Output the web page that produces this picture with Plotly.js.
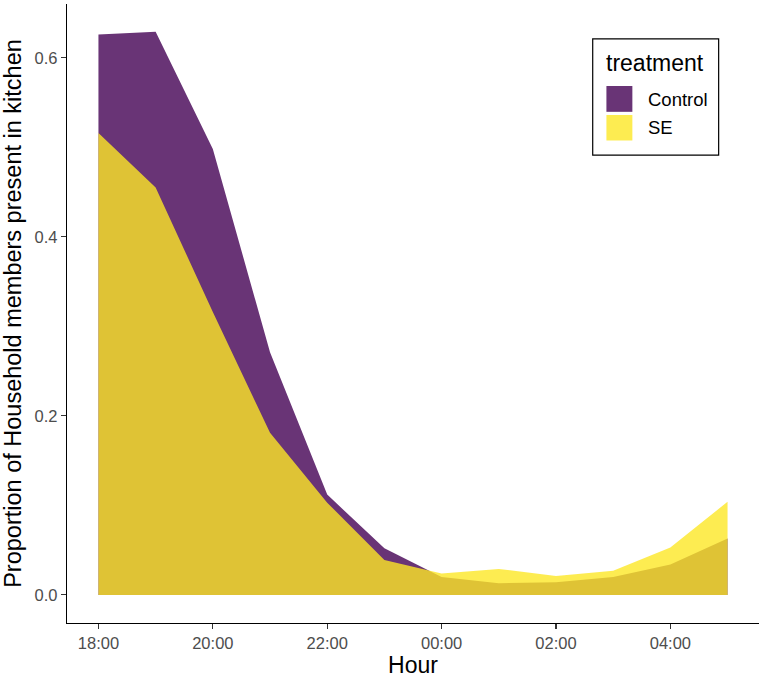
<!DOCTYPE html>
<html>
<head>
<meta charset="utf-8">
<script src="https://cdn.plot.ly/plotly-3.0.1.min.js"></script>
<style>html,body{margin:0;padding:0;background:#fff;}#chart{width:764px;height:679px;}</style>
</head>
<body>
<div id="chart"></div>
<script>
var hours = ['18:00','19:00','20:00','21:00','22:00','23:00','00:00','01:00','02:00','03:00','04:00','05:00'];
var controlValues = [0.626, 0.629, 0.498, 0.271, 0.112, 0.052, 0.020, 0.013, 0.014, 0.020, 0.034, 0.063];
var seValues = [0.516, 0.455, 0.316, 0.181, 0.103, 0.039, 0.024, 0.029, 0.021, 0.027, 0.053, 0.104];
var tickLabels = ['18:00','20:00','22:00','00:00','02:00','04:00'];
var seriesNames = ['Control','SE'];
var legendTitle = 'treatment';

var xIdx = hours.map(function(_, i){ return i; });
var tickIdx = tickLabels.map(function(t){ return hours.indexOf(t); });

var purple = 'rgba(68,1,84,0.8)';
var yellow = 'rgba(253,231,37,0.8)';
var font = 'Liberation Sans, Arial, sans-serif';

var traces = [
  {x: xIdx, y: controlValues, name: seriesNames[0], type: 'scatter', mode: 'none', fill: 'tozeroy', fillcolor: purple, showlegend: false, hoverinfo: 'x+y'},
  {x: xIdx, y: seValues, name: seriesNames[1], type: 'scatter', mode: 'none', fill: 'tozeroy', fillcolor: yellow, showlegend: false, hoverinfo: 'x+y'}
];

var layout = {
  width: 764, height: 679,
  margin: {l: 67, r: 5, t: 4, b: 56},
  paper_bgcolor: '#fff', plot_bgcolor: '#fff',
  showlegend: false,
  font: {family: font, color: '#000'},
  xaxis: {
    range: [-0.55, 11.55], showgrid: false, zeroline: false,
    showline: true, linecolor: '#000', linewidth: 1.2,
    ticks: 'outside', ticklen: 5, tickcolor: '#333', tickwidth: 1.1,
    tickvals: tickIdx, ticktext: tickLabels,
    tickfont: {size: 16.5, color: '#4D4D4D', family: font},
    title: {text: 'Hour', font: {size: 23, color: '#000', family: font}, standoff: 3}
  },
  yaxis: {
    range: [-0.0314, 0.660], showgrid: false, zeroline: false,
    showline: true, linecolor: '#000', linewidth: 1.2,
    ticks: 'outside', ticklen: 5, tickcolor: '#333', tickwidth: 1.1,
    tickvals: [0, 0.2, 0.4, 0.6], tickformat: '.1f',
    tickfont: {size: 16.5, color: '#4D4D4D', family: font},
    title: {text: 'Proportion of Household members present in kitchen', font: {size: 23.5, color: '#000', family: font}, standoff: 7}
  },
  shapes: [
    {type: 'rect', xref: 'paper', yref: 'paper', x0: 0.7597, x1: 0.9417, y0: 0.756, y1: 0.9435, line: {color: '#000', width: 1.2}, fillcolor: '#fff', layer: 'above'},
    {type: 'rect', xref: 'paper', yref: 'paper', x0: 0.7795, x1: 0.8170, y0: 0.8258, y1: 0.8675, line: {width: 0}, fillcolor: purple, layer: 'above'},
    {type: 'rect', xref: 'paper', yref: 'paper', x0: 0.7795, x1: 0.8170, y0: 0.7795, y1: 0.8207, line: {width: 0}, fillcolor: yellow, layer: 'above'}
  ],
  annotations: [
    {xref: 'paper', yref: 'paper', x: 0.776, y: 0.905, xanchor: 'left', yanchor: 'middle', text: legendTitle, showarrow: false, font: {size: 23, color: '#000', family: font}},
    {xref: 'paper', yref: 'paper', x: 0.836, y: 0.8465, xanchor: 'left', yanchor: 'middle', text: seriesNames[0], showarrow: false, font: {size: 18.5, color: '#000', family: font}},
    {xref: 'paper', yref: 'paper', x: 0.836, y: 0.7997, xanchor: 'left', yanchor: 'middle', text: seriesNames[1], showarrow: false, font: {size: 18.5, color: '#000', family: font}}
  ]
};

Plotly.newPlot('chart', traces, layout, {displayModeBar: false, staticPlot: true});
</script>
</body>
</html>
